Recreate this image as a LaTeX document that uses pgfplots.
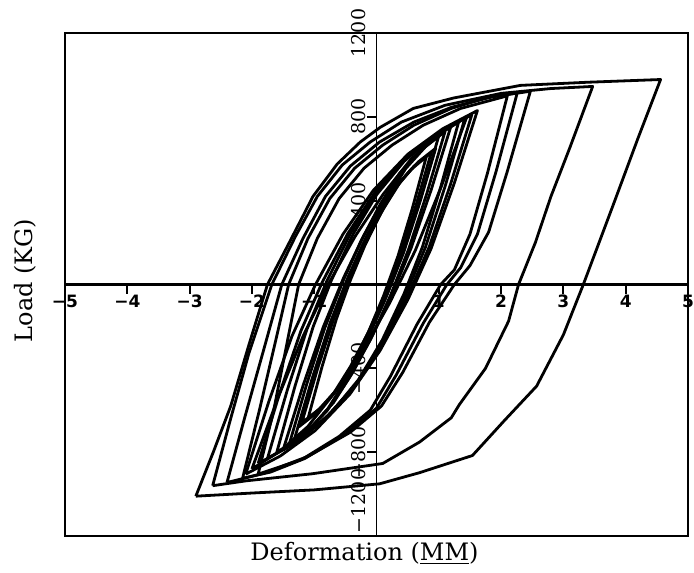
\documentclass[border=0pt]{standalone}
\usepackage{fontspec}
\usepackage{graphicx}
\setmainfont{DejaVu Serif}
\newfontfamily\ticksans{DejaVu Sans}
\usepackage{pgfplots}
\pgfplotsset{compat=1.18}
\begin{document}
\begin{tikzpicture}
\begin{axis}[
  scale only axis, width=311.5pt, height=251.5pt,
  xmin=-5, xmax=5, ymin=-1200, ymax=1200,
  axis x line=middle, axis y line=middle,
  x axis line style={-, line width=1.2pt},
  y axis line style={-, line width=0.8pt},
  clip=false,
  xtick={-5,-4,-3,-2,-1,1,2,3,4,5},
  xticklabels={−5,−4,−3,−2,−1,1,2,3,4,5},
  ytick={-1200,-800,-400,400,800,1200},
  yticklabels={\raisebox{35pt}{\rotatebox{90}{−1200}},\rotatebox{90}{−800},\rotatebox{90}{−400},\rotatebox{90}{400},\rotatebox{90}{800},\rotatebox{90}{1200}},
  major tick length=0pt,
  xticklabel style={font=\ticksans\bfseries\fontsize{8.5}{10}\selectfont, inner sep=0pt, anchor=north, yshift=-5pt},
  yticklabel style={font=\fontsize{9.5}{11}\selectfont, anchor=east, inner sep=0pt, xshift=-5pt},
  no markers,
  cycle list={{black, solid}},
  every axis plot/.append style={line width=1.4pt, line join=round},
]
\coordinate (bl) at (rel axis cs:0,0);
\coordinate (tr) at (rel axis cs:1,1);
\draw[line width=1pt] (rel axis cs:0,0) rectangle (rel axis cs:1,1);
\pgfplotsinvokeforeach{-4,-3,-2,-1,1,2,3,4}{\draw[line width=1pt, black] (axis cs:#1,0) -- ++(0pt,-5pt);}
\pgfplotsinvokeforeach{-1200,-800,-400,400,800,1200}{\draw[line width=1pt, black] (axis cs:0,#1) -- ++(-4.5pt,0pt);}
\node[rotate=90, anchor=south, inner sep=0pt, font=\fontsize{12}{14}\selectfont] at ([xshift=-14pt,yshift=2pt]rel axis cs:0,0.5) {Load (KG)};
\node[anchor=north, inner sep=0pt, font=\fontsize{12}{14}\selectfont] at ([xshift=-6pt,yshift=-3pt]rel axis cs:0.5,0) {Deformation (\underline{MM})};
% loop 10 (outer)
\addplot coordinates {(-2.90,-1010) (-2.62,-800) (-2.34,-580) (-2.05,-290) (-1.75,0) (-1.40,200) (-1.02,420) (-0.63,575) (-0.26,680) (0.06,750) (0.59,840) (1.24,890) (2.31,950) (3.39,965) (4.56,978) (4.20,700) (3.80,380) (3.32,0) (3.00,-240) (2.57,-485) (2.05,-650) (1.54,-816) (0.69,-898) (0.05,-951) (-1.00,-980) (-2.00,-995) (-2.90,-1010)};
% loop 9
\addplot coordinates {(-2.63,-960) (-2.35,-650) (-2.05,-330) (-1.68,0) (-1.30,230) (-0.95,420) (-0.55,570) (-0.10,680) (0.40,775) (1.10,855) (2.00,912) (2.80,935) (3.47,945) (3.10,650) (2.80,420) (2.55,200) (2.28,0) (2.12,-175) (1.75,-400) (1.33,-573) (1.20,-636) (0.69,-752) (0.10,-854) (-1.03,-903) (-2.10,-937) (-2.63,-960)};
% loop 8
\addplot coordinates {(-2.40,-945) (-2.12,-640) (-1.80,-300) (-1.52,0) (-1.18,220) (-0.82,420) (-0.42,565) (0.05,680) (0.60,775) (1.20,845) (1.85,895) (2.47,922) (2.10,540) (1.80,250) (1.50,90) (1.25,0) (0.85,-180) (0.42,-420) (0.08,-580) (-0.42,-705) (-1.10,-820) (-1.80,-900) (-2.40,-945)};
% loop 7
\addplot coordinates {(-2.15,-925) (-1.88,-600) (-1.62,-270) (-1.41,0) (-1.10,220) (-0.75,410) (-0.35,555) (0.10,665) (0.60,760) (1.20,840) (1.75,890) (2.26,915) (1.92,540) (1.62,240) (1.35,80) (1.13,0) (0.75,-185) (0.32,-430) (0.00,-590) (-0.50,-715) (-1.15,-830) (-1.70,-895) (-2.15,-925)};
% loop 6
\addplot coordinates {(-1.90,-905) (-1.65,-600) (-1.45,-300) (-1.25,0) (-0.95,220) (-0.60,410) (-0.20,555) (0.25,665) (0.75,760) (1.35,840) (2.10,900) (1.78,530) (1.50,240) (1.25,70) (1.03,0) (0.65,-190) (0.22,-440) (-0.10,-600) (-0.60,-725) (-1.20,-835) (-1.90,-905)};
% loop 5
\addplot coordinates {(-2.10,-905) (-1.728,-558) (-1.356,-246) (-0.984,-3) (-0.538,240) (-0.054,448) (0.504,622) (1.062,743) (1.62,830) (1.248,483) (0.876,171) (0.504,-72) (0.058,-315) (-0.426,-523) (-0.984,-697) (-1.542,-818) (-2.10,-905)};
% loop 4
\addplot coordinates {(-1.90,-854) (-1.557,-521) (-1.214,-222) (-0.871,11) (-0.459,244) (-0.014,444) (0.501,610) (1.016,727) (1.53,810) (1.187,477) (0.844,178) (0.501,-55) (0.089,-288) (-0.357,-488) (-0.871,-654) (-1.386,-771) (-1.90,-854)};
% loop 4b
\addplot coordinates {(-2.0,-880) (-1.586,-544) (-1.172,-242) (-0.758,10) (-0.344,229) (0.105,430) (0.553,598) (1.002,716) (1.45,800) (1.036,464) (0.622,162) (0.208,-90) (-0.206,-309) (-0.655,-510) (-1.103,-678) (-1.552,-796) (-2.0,-880)};
% loop 3b
\addplot coordinates {(-1.75,-830) (-1.433,-505) (-1.116,-213) (-0.799,15) (-0.419,243) (-0.007,438) (0.469,600) (0.945,714) (1.42,795) (1.103,470) (0.786,178) (0.469,-50) (0.089,-278) (-0.324,-473) (-0.799,-635) (-1.275,-749) (-1.75,-830)};
% loop 3
\addplot coordinates {(-1.60,-800) (-1.308,-485) (-1.016,-201) (-0.724,20) (-0.374,241) (0.006,430) (0.444,588) (0.882,698) (1.32,777) (1.028,462) (0.736,178) (0.444,-43) (0.094,-264) (-0.286,-453) (-0.724,-611) (-1.162,-721) (-1.60,-800)};
% loop 3c
\addplot coordinates {(-1.50,-790) (-1.176,-480) (-0.852,-201) (-0.528,32) (-0.204,233) (0.147,419) (0.498,574) (0.849,683) (1.20,760) (0.876,450) (0.552,171) (0.228,-62) (-0.096,-263) (-0.447,-449) (-0.798,-604) (-1.149,-713) (-1.50,-790)};
% loop 2b
\addplot coordinates {(-1.32,-740) (-1.030,-446) (-0.739,-181) (-0.449,39) (-0.158,230) (0.156,407) (0.471,554) (0.785,657) (1.10,730) (0.810,436) (0.519,171) (0.229,-49) (-0.062,-240) (-0.376,-417) (-0.691,-564) (-1.005,-667) (-1.32,-740)};
% loop 2
\addplot coordinates {(-1.41,-772) (-1.121,-476) (-0.832,-209) (-0.542,13) (-0.253,205) (0.060,383) (0.373,531) (0.687,635) (1.00,709) (0.711,413) (0.422,146) (0.132,-76) (-0.157,-268) (-0.470,-446) (-0.783,-594) (-1.097,-698) (-1.41,-772)};
% loop 1b
\addplot coordinates {(-1.20,-660) (-0.942,-398) (-0.684,-162) (-0.426,34) (-0.168,205) (0.112,362) (0.391,493) (0.671,585) (0.95,650) (0.692,388) (0.434,152) (0.176,-44) (-0.082,-215) (-0.362,-372) (-0.641,-503) (-0.921,-595) (-1.20,-660)};
% loop 1
\addplot coordinates {(-1.25,-680) (-0.994,-418) (-0.739,-182) (-0.483,14) (-0.228,185) (0.049,342) (0.326,473) (0.603,565) (0.88,630) (0.624,368) (0.369,132) (0.113,-64) (-0.142,-235) (-0.419,-392) (-0.696,-523) (-0.973,-615) (-1.25,-680)};
% loop 1c
\addplot coordinates {(-1.10,-640) (-0.872,-390) (-0.644,-165) (-0.416,23) (-0.188,185) (0.059,335) (0.306,460) (0.553,548) (0.80,610) (0.572,360) (0.344,135) (0.116,-52) (-0.112,-215) (-0.359,-365) (-0.606,-490) (-0.853,-578) (-1.10,-640)};
\end{axis}
\pgfresetboundingbox
\useasboundingbox ([xshift=-32.5pt,yshift=-18pt]bl) rectangle ([xshift=3pt,yshift=16.5pt]tr);
\end{tikzpicture}
\end{document}
